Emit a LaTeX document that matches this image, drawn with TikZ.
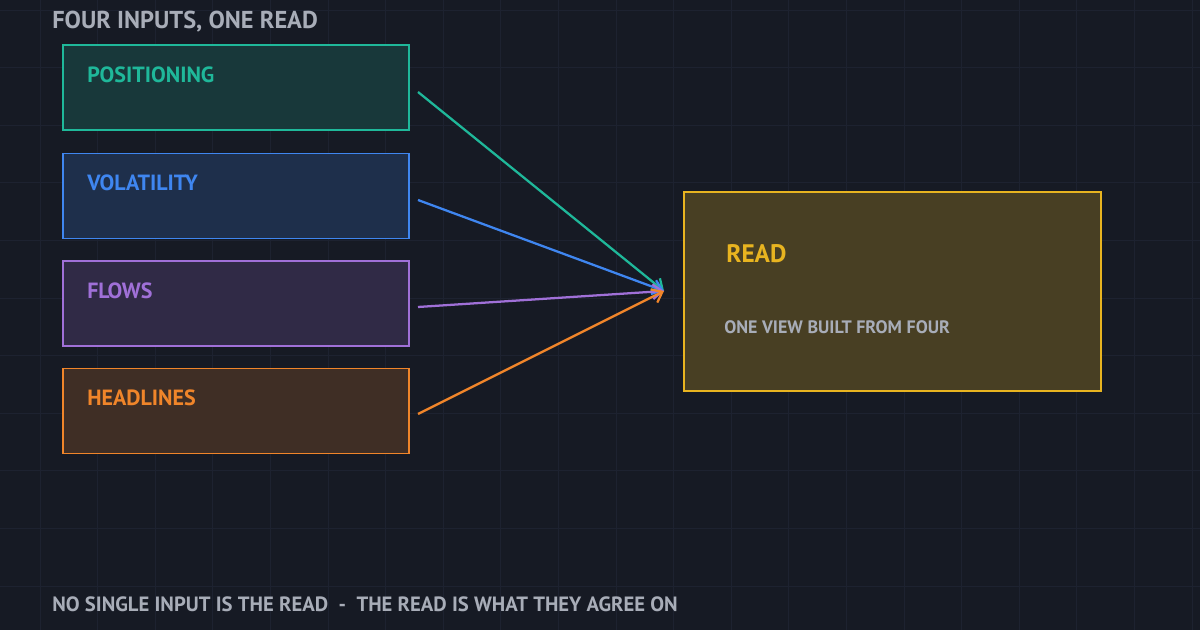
\documentclass[tikz,border=0pt]{standalone}
\usepackage{fontspec}
\setmainfont{PT Sans}
\usetikzlibrary{arrows.meta}
\definecolor{bg}{HTML}{161A24}
\definecolor{gridc}{HTML}{1D2230}
\definecolor{teal}{HTML}{1FB89A}
\definecolor{blu}{HTML}{3F86F0}
\definecolor{pur}{HTML}{A070D8}
\definecolor{org}{HTML}{F0852A}
\definecolor{gold}{HTML}{E8B420}
\definecolor{txt}{HTML}{A8ADB8}
\begin{document}
\begin{tikzpicture}[x=0.75pt,y=-0.75pt,
  box/.style={draw=#1,fill=#1!19!bg,line width=1.3pt,minimum width=346*0.75pt,minimum height=85*0.75pt,inner sep=0pt},
  lab/.style={text=#1,font=\bfseries\fontsize{16.5}{18}\selectfont,anchor=west,inner sep=0pt},
  arr/.style={draw=#1,line width=1.7pt,-{Straight Barb[length=7pt,width=11pt]}}]
\fill[bg] (0,0) rectangle (1200,630);
\useasboundingbox (0,0) rectangle (1200,630);
\foreach \x in {0,...,20} \draw[gridc,line width=0.6pt] (40+\x*57.6,0) -- (40+\x*57.6,630);
\foreach \y in {0,...,11} \draw[gridc,line width=0.6pt] (0,10+\y*57.6) -- (1200,10+\y*57.6);
\node[anchor=west,inner sep=0pt,text=txt,font=\bfseries\fontsize{18.3}{20}\selectfont] (title) at (52,22) {FOUR INPUTS, ONE READ};
\node[box=teal] (p) at (236,87.5) {};
\node[box=blu] (v) at (236,196) {};
\node[box=pur] (f) at (236,303.5) {};
\node[box=org] (h) at (236,411) {};
\node[lab=teal] (pl) at (87,75) {POSITIONING};
\node[lab=blu] (vl) at (87,183) {VOLATILITY};
\node[lab=pur] (fl) at (87,291) {FLOWS};
\node[lab=org] (hl) at (87,398) {HEADLINES};
\node[draw=gold,fill=gold!24!bg,line width=1.3pt,minimum width=417*0.75pt,minimum height=199*0.75pt,inner sep=0pt] (r) at (892.5,291.5) {};
\node[anchor=west,inner sep=0pt,text=gold,font=\bfseries\fontsize{19}{21}\selectfont] (rl) at (726,254) {READ};
\node[anchor=west,inner sep=0pt,text=txt,font=\bfseries\fontsize{13.5}{15}\selectfont] (rs) at (724,327) {ONE VIEW BUILT FROM FOUR};
\coordinate (t) at (664,291);
\coordinate (p1) at (418,92);
\coordinate (v1) at (418,200);
\coordinate (f1) at (418,307);
\coordinate (h1) at (418,414);
\draw[arr=teal] (p1) -- (t);
\draw[arr=blu] (v1) -- (t);
\draw[arr=pur] (f1) -- (t);
\draw[arr=org] (h1) -- (t);
\node[anchor=west,inner sep=0pt,text=txt,font=\bfseries\fontsize{15.5}{17}\selectfont] (foot) at (52,604) {NO SINGLE INPUT IS THE READ \ -\ \ THE READ IS WHAT THEY AGREE ON};
\end{tikzpicture}
\end{document}
